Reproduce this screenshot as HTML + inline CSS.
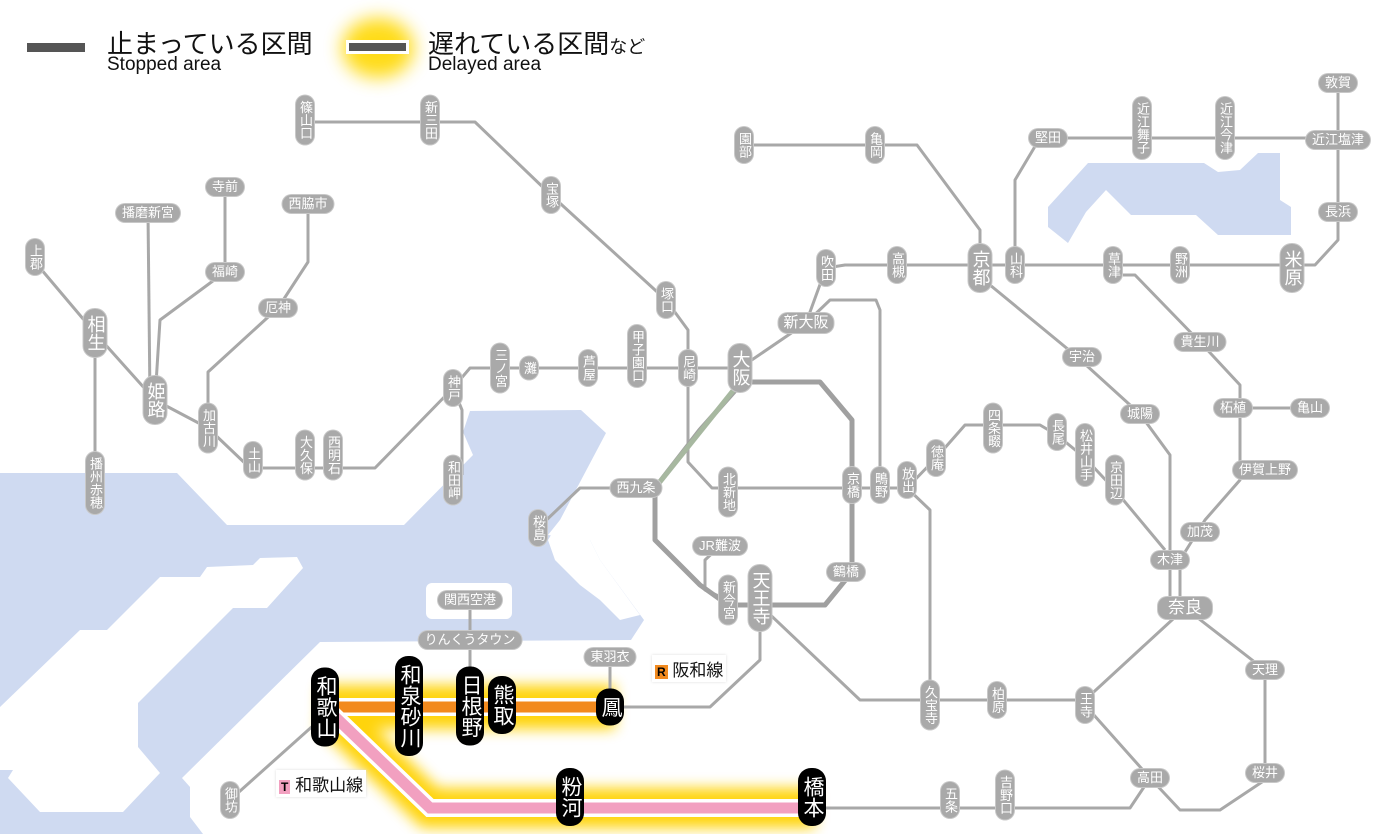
<!DOCTYPE html>
<html><head><meta charset="utf-8"><style>
body{margin:0;background:#fff;}
#w{position:relative;width:1400px;height:834px;overflow:hidden;font-family:"Liberation Sans","Noto Sans CJK JP",sans-serif;}
svg{position:absolute;left:0;top:0}
.s{position:absolute;transform:translate(-50%,-50%);background:#a9a9a9;color:#fff;font-size:13px;line-height:14px;border-radius:9px;white-space:nowrap;text-align:center;box-shadow:0 0 0 1px #c8c8c8}
.v{writing-mode:vertical-rl;padding:5px 2px;}
.h{padding:2px 6px;}
.L{font-size:18px;line-height:19px;border-radius:11px;padding:6px 2px}
.k{background:#000;box-shadow:none;font-size:21px;line-height:22px;border-radius:13px;padding:8px 3px}
.t{position:absolute;white-space:nowrap;color:#111}
</style></head><body><div id="w">
<svg width="1400" height="834" viewBox="0 0 1400 834">
<defs>
<filter id="bl" x="-20%" y="-50%" width="140%" height="200%"><feGaussianBlur stdDeviation="7"/></filter>
<filter id="bl2" x="-50%" y="-50%" width="200%" height="200%"><feGaussianBlur stdDeviation="9"/></filter>
</defs>
<!-- water -->
<polygon fill="#cfdaf1" points="0,473 177,473 227,525 404,525 473,455 463,432 470,411 581,410 606,433 560,520 548,535 590,540 600,560 644,620 631,640 320,642 182,778 190,787 190,817 203,834 0,834"/>
<polygon fill="#fff" points="303,568 297,557 260,558 253,565 207,567 200,577 160,577 107,630 80,630 0,707 0,770 13,770 8,778 40,812 123,812 160,773 138,747 138,703 233,608 267,608"/>
<polygon fill="#fff" points="548,540 560,520 575,530 590,540 600,560 640,615 620,620 600,600 580,585 555,560"/>
<rect x="426" y="583" width="86" height="36" rx="6" fill="#fff"/>
<polygon fill="#cfdaf1" points="1048,207 1088,163 1204,163 1218,172 1240,170 1258,153 1280,153 1280,200 1291,207 1291,235 1218,235 1196,215 1131,215 1106,190 1086,212 1068,243 1048,227"/>
<!-- legend glow -->
<ellipse cx="378" cy="48" rx="36" ry="30" fill="#ffd800" filter="url(#bl2)" opacity="0.9"/>
<rect x="27" y="43" width="58" height="9" fill="#555"/>
<rect x="346" y="40" width="63" height="14" fill="#fff"/>
<rect x="349" y="43" width="57" height="8" fill="#555"/>
<!-- delayed glows -->
<g filter="url(#bl)" opacity="0.95">
<line x1="320" y1="707" x2="615" y2="707" stroke="#ffd200" stroke-width="44"/>
<polyline points="330,712 430,808 815,808" fill="none" stroke="#ffd200" stroke-width="40"/>
</g>
<g fill="none" stroke="#a8a8a8" stroke-width="3" stroke-linejoin="round">
<polyline points="305,122 475,122 551,195 666,300 688,330 688,368"/>
<polyline points="740,368 470,368 453,388 375,468 250,468 208,428 155,400 95,333 35,262"/>
<polyline points="95,333 95,483"/>
<polyline points="453,388 462,410 462,475"/>
<polyline points="208,428 208,372 278,308 308,262 308,204"/>
<polyline points="155,400 160,320 225,272 225,187"/>
<polyline points="150,400 148,213"/>
<polyline points="688,368 688,462 712,488 907,488"/>
<polyline points="740,368 806,323 826,268 845,265 1292,265 1315,265 1338,240 1338,83"/>
<polyline points="806,323 830,300 876,300 880,310 880,480"/>
<polyline points="1015,265 1015,180 1040,138 1338,138"/>
<polyline points="744,145 917,145 980,230 980,265"/>
<polyline points="990,285 1075,355 1140,414 1170,455 1170,608 1185,608"/>
<polyline points="1123,275 1135,275 1200,342 1240,385 1240,408 1310,408"/>
<polyline points="1240,408 1240,480 1205,520 1180,560 1180,608"/>
<polyline points="907,488 936,458 965,425 1040,425 1057,435 1085,458 1115,490 1165,550"/>
<polyline points="760,605 860,700 1085,700 1185,608"/>
<polyline points="907,488 930,510 930,700"/>
<polyline points="1185,608 1265,670 1265,780 1220,810 1180,810 1150,778 1085,705"/>
<polyline points="812,808 1130,808 1150,778"/>
<polyline points="760,605 760,660 710,707 615,707"/>
<polyline points="610,657 610,707"/>
<polyline points="470,600 470,707"/>
<polyline points="325,715 230,800"/>
<polyline points="720,546 705,560 705,590 728,600"/>
<polyline points="538,528 580,488 655,488"/>
</g>
<g fill="none" stroke="#a0a0a0" stroke-width="5" stroke-linejoin="round">
<polyline points="740,382 820,382 852,420 852,572 825,605 728,605 700,585 655,540 655,488 700,430 740,385"/>
<polyline points="655,488 740,382" stroke="#a7b8a0"/>
</g>
<!-- hanwa -->
<line x1="325" y1="707" x2="612" y2="707" stroke="#fff" stroke-width="18"/>
<line x1="325" y1="707" x2="612" y2="707" stroke="#f28a1e" stroke-width="11"/>
<polyline points="330,712 430,808 815,808" fill="none" stroke="#fff" stroke-width="18"/>
<polyline points="330,712 430,808 815,808" fill="none" stroke="#f2a0c0" stroke-width="11"/>
</svg>
<div class="t" style="left:107px;top:24px;font-size:26px">止まっている区間</div>
<div class="t" style="left:107px;top:54px;font-size:19px">Stopped area</div>
<div class="t" style="left:428px;top:24px;font-size:26px">遅れている区間<span style="font-size:18px">など</span></div>
<div class="t" style="left:428px;top:54px;font-size:19px">Delayed area</div>
<div class="t" style="left:652px;top:655px;font-size:17px;background:#fff;padding:1px 3px;box-shadow:0 0 3px #ddd"><span style="background:#f28a1e;color:#000;font-size:12px;font-weight:bold;padding:0 2px">R</span> 阪和線</div>
<div class="t" style="left:276px;top:770px;font-size:17px;background:#fff;padding:1px 3px;box-shadow:0 0 3px #ddd"><span style="background:#f2a0c0;color:#000;font-size:12px;font-weight:bold;padding:0 2px">T</span> 和歌山線</div>

<div class="s v" style="left:305px;top:120px">篠山口</div>
<div class="s v" style="left:430px;top:120px">新三田</div>
<div class="s v" style="left:551px;top:195px">宝塚</div>
<div class="s v" style="left:666px;top:300px">塚口</div>
<div class="s v" style="left:688px;top:368px">尼崎</div>
<div class="s v" style="left:637px;top:356px">甲子園口</div>
<div class="s v" style="left:588px;top:368px">芦屋</div>
<div class="s v" style="left:529px;top:368px">灘</div>
<div class="s v" style="left:500px;top:368px">三ノ宮</div>
<div class="s v" style="left:453px;top:388px">神戸</div>
<div class="s v" style="left:453px;top:480px">和田岬</div>
<div class="s v" style="left:333px;top:455px">西明石</div>
<div class="s v" style="left:305px;top:455px">大久保</div>
<div class="s v" style="left:253px;top:460px">土山</div>
<div class="s v" style="left:208px;top:428px">加古川</div>
<div class="s h" style="left:278px;top:308px">厄神</div>
<div class="s h" style="left:308px;top:204px">西脇市</div>
<div class="s h" style="left:225px;top:187px">寺前</div>
<div class="s h" style="left:225px;top:272px">福崎</div>
<div class="s h" style="left:148px;top:213px">播磨新宮</div>
<div class="s v" style="left:35px;top:257px">上郡</div>
<div class="s v L" style="left:95px;top:333px">相生</div>
<div class="s v L" style="left:155px;top:400px">姫路</div>
<div class="s v" style="left:95px;top:483px">播州赤穂</div>
<div class="s v L" style="left:740px;top:368px">大阪</div>
<div class="s h" style="left:806px;top:323px;font-size:15px;padding:3px 5px">新大阪</div>
<div class="s v" style="left:826px;top:268px">吹田</div>
<div class="s v" style="left:897px;top:265px">高槻</div>
<div class="s v L" style="left:980px;top:268px">京都</div>
<div class="s v" style="left:1015px;top:265px">山科</div>
<div class="s v" style="left:1113px;top:265px">草津</div>
<div class="s v" style="left:1180px;top:265px">野洲</div>
<div class="s v L" style="left:1292px;top:268px">米原</div>
<div class="s h" style="left:1338px;top:212px">長浜</div>
<div class="s h" style="left:1338px;top:140px">近江塩津</div>
<div class="s h" style="left:1338px;top:83px">敦賀</div>
<div class="s h" style="left:1048px;top:138px">堅田</div>
<div class="s v" style="left:1142px;top:128px">近江舞子</div>
<div class="s v" style="left:1225px;top:128px">近江今津</div>
<div class="s v" style="left:744px;top:145px">園部</div>
<div class="s v" style="left:875px;top:145px">亀岡</div>
<div class="s h" style="left:1082px;top:357px">宇治</div>
<div class="s h" style="left:1140px;top:414px">城陽</div>
<div class="s h" style="left:1200px;top:342px">貴生川</div>
<div class="s h" style="left:1233px;top:408px">柘植</div>
<div class="s h" style="left:1310px;top:408px">亀山</div>
<div class="s h" style="left:1265px;top:470px">伊賀上野</div>
<div class="s h" style="left:1200px;top:532px">加茂</div>
<div class="s h" style="left:1170px;top:560px">木津</div>
<div class="s h" style="left:1185px;top:608px;font-size:17px;padding:4px 10px">奈良</div>
<div class="s v" style="left:993px;top:428px">四条畷</div>
<div class="s v" style="left:936px;top:458px">徳庵</div>
<div class="s v" style="left:1057px;top:432px">長尾</div>
<div class="s v" style="left:1085px;top:455px">松井山手</div>
<div class="s v" style="left:1115px;top:480px">京田辺</div>
<div class="s v" style="left:852px;top:485px">京橋</div>
<div class="s v" style="left:880px;top:485px">鴫野</div>
<div class="s v" style="left:907px;top:480px">放出</div>
<div class="s v" style="left:728px;top:492px">北新地</div>
<div class="s h" style="left:636px;top:488px">西九条</div>
<div class="s v" style="left:538px;top:528px">桜島</div>
<div class="s h" style="left:720px;top:546px">JR難波</div>
<div class="s v" style="left:728px;top:600px">新今宮</div>
<div class="s v L" style="left:760px;top:598px">天王寺</div>
<div class="s h" style="left:846px;top:572px">鶴橋</div>
<div class="s v" style="left:930px;top:705px">久宝寺</div>
<div class="s v" style="left:997px;top:700px">柏原</div>
<div class="s v" style="left:1085px;top:705px">王寺</div>
<div class="s h" style="left:1265px;top:670px">天理</div>
<div class="s h" style="left:1265px;top:773px">桜井</div>
<div class="s h" style="left:1150px;top:778px">高田</div>
<div class="s v" style="left:950px;top:800px">五条</div>
<div class="s v" style="left:1005px;top:795px">吉野口</div>
<div class="s h" style="left:470px;top:600px">関西空港</div>
<div class="s h" style="left:470px;top:640px">りんくうタウン</div>
<div class="s h" style="left:610px;top:657px">東羽衣</div>
<div class="s v" style="left:230px;top:800px">御坊</div>
<div class="s v k" style="left:325px;top:707px">和歌山</div>
<div class="s v k" style="left:409px;top:706px">和泉砂川</div>
<div class="s v k" style="left:470px;top:706px">日根野</div>
<div class="s v k" style="left:502px;top:705px">熊取</div>
<div class="s v k" style="left:610px;top:707px">鳳</div>
<div class="s v k" style="left:570px;top:797px">粉河</div>
<div class="s v k" style="left:812px;top:797px">橋本</div>
</div></body></html>
